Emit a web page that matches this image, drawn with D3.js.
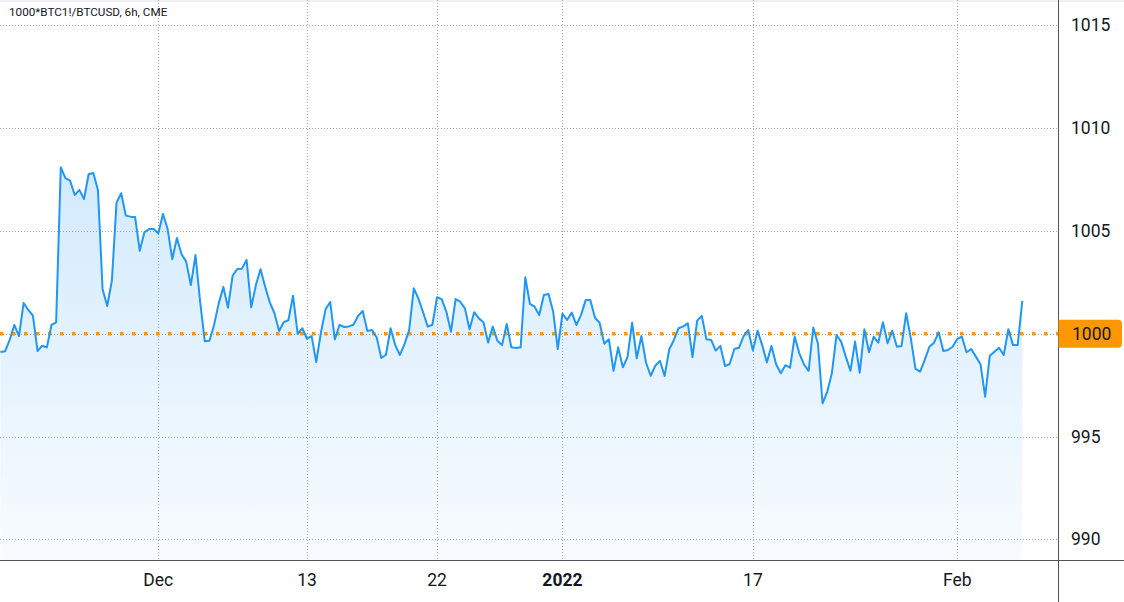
<!DOCTYPE html>
<html>
<head>
<meta charset="utf-8">
<script src="https://cdn.jsdelivr.net/npm/d3@7"></script>
<style>
  html, body { margin: 0; padding: 0; background: #ffffff; }
  svg { display: block; font-family: Roboto, "Noto Sans", sans-serif; }
</style>
</head>
<body>
<svg id="chart" width="1124" height="602"></svg>
<script>
// ---- data ----
const title = "1000*BTC1!/BTCUSD, 6h, CME";
const values = [
 999.11, 999.15, 999.70, 1000.43, 999.89, 1001.50, 1001.16, 1000.88, 999.16, 999.42,
 999.34, 1000.43, 1000.56, 1008.10, 1007.57, 1007.45, 1006.75, 1007.00, 1006.56, 1007.76,
 1007.82, 1007.00, 1002.17, 1001.35, 1002.58, 1006.38, 1006.84, 1005.75, 1005.70, 1005.68,
 1004.04, 1004.94, 1005.10, 1005.10, 1004.89, 1005.83, 1005.10, 1003.63, 1004.66, 1003.87,
 1003.51, 1002.37, 1003.83, 1001.56, 999.64, 999.66, 1000.43, 1001.48, 1002.28, 1001.27,
 1002.83, 1003.15, 1003.17, 1003.59, 1001.29, 1002.37, 1003.14, 1002.29, 1001.53, 1001.00,
 1000.14, 1000.57, 1000.66, 1001.85, 999.99, 1000.27, 999.76, 999.89, 998.63, 1000.05,
 1001.19, 1001.55, 999.73, 1000.43, 1000.33, 1000.36, 1000.44, 1000.87, 1001.11, 1000.14,
 1000.18, 999.83, 998.82, 998.98, 1000.27, 999.45, 998.97, 999.50, 1000.18, 1002.21,
 1001.71, 1001.05, 1000.35, 1000.44, 1001.78, 1001.69, 1001.08, 1000.10, 1001.69, 1001.56,
 1001.24, 1000.22, 1001.05, 1000.75, 1000.56, 999.57, 1000.35, 999.66, 999.45, 1000.48,
 999.34, 999.31, 999.34, 1002.75, 1001.45, 1001.32, 1000.91, 1001.89, 1001.94, 1001.08,
 999.26, 1000.98, 1000.67, 1001.03, 1000.43, 1000.91, 1001.64, 1001.64, 1000.78, 1000.54,
 999.52, 999.73, 998.20, 999.34, 998.37, 998.86, 1000.54, 998.81, 999.89, 998.59,
 997.96, 998.45, 998.68, 997.95, 999.25, 999.70, 1000.27, 1000.36, 1000.51, 998.86,
 1000.64, 1000.87, 999.73, 999.70, 999.18, 999.41, 998.43, 998.53, 999.26, 999.32,
 999.89, 1000.18, 999.18, 1000.15, 999.45, 998.61, 999.41, 998.52, 998.08, 998.47,
 998.35, 999.86, 999.05, 998.51, 998.20, 1000.31, 999.53, 996.62, 997.18, 998.08,
 999.94, 999.62, 998.89, 998.20, 999.62, 998.11, 1000.22, 999.10, 999.86, 999.57,
 1000.56, 999.54, 1000.15, 999.37, 999.41, 1001.00, 999.78, 998.29, 998.16, 998.73,
 999.37, 999.57, 1000.07, 999.16, 999.21, 999.37, 999.75, 999.86, 999.10, 999.26,
 998.89, 998.52, 996.94, 998.93, 999.13, 999.32, 998.97, 1000.22, 999.45, 999.45,
 1001.60
];
const xTickIndex = [34, 66, 94, 121, 162, 206];
const xTickLabels = ["Dec", "13", "22", "2022", "17", "Feb"];
const xTickBold = [false, false, false, true, false, false];
const yTicks = [990, 995, 1000, 1005, 1010, 1015];
const refValue = 1000;
const refLabel = "1000";

// ---- layout ----
const W = 1124, H = 602;
const plotRight = 1058.5, plotBottom = 560.5;

const svg = d3.select("#chart");

const x = d3.scaleLinear().domain([0, values.length - 1]).range([0.4, 1022.3]);
const y = d3.scaleLinear().domain([988.97, 1016.24]).range([plotBottom, 0]);

const defs = svg.append("defs");
defs.append("clipPath").attr("id", "plotClip")
  .append("rect").attr("x", 0).attr("y", 0).attr("width", plotRight).attr("height", plotBottom);

const grad = defs.append("linearGradient").attr("id", "areaGrad")
  .attr("gradientUnits", "userSpaceOnUse")
  .attr("x1", 0).attr("x2", 0)
  .attr("y1", y(d3.max(values))).attr("y2", plotBottom);
grad.append("stop").attr("offset", "0%").attr("stop-color", "#2196f3").attr("stop-opacity", 0.2);
grad.append("stop").attr("offset", "100%").attr("stop-color", "#2196f3").attr("stop-opacity", 0.03);

// background
svg.append("rect").attr("width", W).attr("height", H).attr("fill", "#ffffff");
svg.append("rect").attr("x", 0).attr("y", 0).attr("width", W).attr("height", 2).attr("fill", "#eef0f5");

const plot = svg.append("g").attr("clip-path", "url(#plotClip)");

// grid
plot.append("g").selectAll("line").data(yTicks).join("line")
  .attr("x1", 0).attr("x2", plotRight)
  .attr("y1", d => Math.round(y(d)) + 0.5).attr("y2", d => Math.round(y(d)) + 0.5)
  .attr("stroke", "#a3a6ad").attr("stroke-width", 1).attr("stroke-dasharray", "1,2");
plot.append("g").selectAll("line").data(xTickIndex).join("line")
  .attr("x1", d => Math.round(x(d)) + 0.5).attr("x2", d => Math.round(x(d)) + 0.5)
  .attr("y1", 0).attr("y2", plotBottom)
  .attr("stroke", "#a3a6ad").attr("stroke-width", 1).attr("stroke-dasharray", "1,2");

// area + line
const area = d3.area().x((d, i) => x(i)).y0(plotBottom).y1(d => y(d));
plot.append("path").datum(values).attr("d", area).attr("fill", "url(#areaGrad)");

// reference line
plot.append("line")
  .attr("x1", 0).attr("x2", plotRight)
  .attr("y1", y(refValue)).attr("y2", y(refValue))
  .attr("stroke", "#ff9800").attr("stroke-width", 3.5).attr("stroke-dasharray", "3.5,8.5");

const line = d3.line().x((d, i) => x(i)).y(d => y(d));
plot.append("path").datum(values).attr("d", line)
  .attr("fill", "none").attr("stroke", "#2196f3").attr("stroke-width", 2)
  .attr("stroke-linejoin", "round");

// axes lines
svg.append("line").attr("x1", plotRight).attr("x2", plotRight).attr("y1", 0).attr("y2", H)
  .attr("stroke", "#50535e").attr("stroke-width", 1);
svg.append("line").attr("x1", 0).attr("x2", W).attr("y1", plotBottom).attr("y2", plotBottom)
  .attr("stroke", "#50535e").attr("stroke-width", 1);

// right axis labels
svg.append("g").selectAll("text").data(yTicks.filter(d => d !== refValue)).join("text")
  .attr("x", 1071).attr("y", d => y(d))
  .attr("dominant-baseline", "central")
  .attr("font-size", 17.5).attr("fill", "#131722")
  .text(d => d);

// reference label
const refY = y(refValue);
svg.append("path")
  .attr("d", `M${plotRight},${refY - 14} H1118 Q1122,${refY - 14} 1122,${refY - 10} V${refY + 10} Q1122,${refY + 14} 1118,${refY + 14} H${plotRight} Z`)
  .attr("fill", "#ff9800");
svg.append("text").attr("x", 1072).attr("y", refY)
  .attr("dominant-baseline", "central")
  .attr("font-size", 17.5).attr("fill", "#131722").text(refLabel);

// bottom axis labels
svg.append("g").selectAll("text").data(xTickIndex).join("text")
  .attr("x", d => x(d)).attr("y", 580)
  .attr("text-anchor", "middle").attr("dominant-baseline", "central")
  .attr("font-size", 17.5).attr("fill", "#131722")
  .attr("font-weight", (d, i) => xTickBold[i] ? "bold" : "normal")
  .text((d, i) => xTickLabels[i]);

// title
svg.append("text").attr("x", 9).attr("y", 16)
  .attr("font-size", 11.7).attr("fill", "#131722").text(title);
</script>
</body>
</html>
